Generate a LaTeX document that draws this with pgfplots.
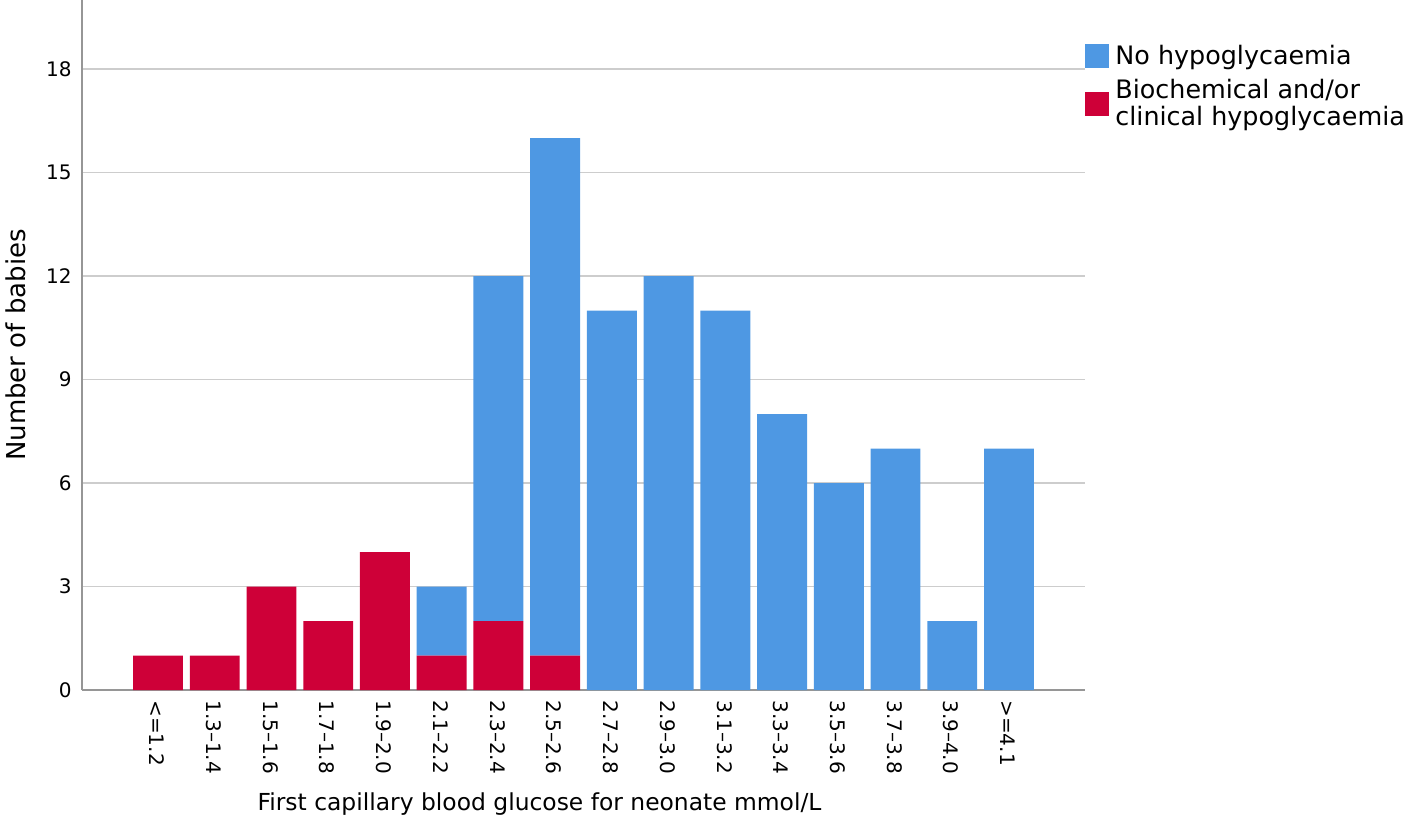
\documentclass[border=0pt]{standalone}
\usepackage{fontspec}
\setmainfont{DejaVu Sans}
\usepackage{pgfplots}
\pgfplotsset{compat=1.18}
\definecolor{nohypo}{RGB}{78,152,227}
\definecolor{hypo}{RGB}{206,0,56}
\definecolor{axgray}{RGB}{150,150,150}
\definecolor{gridgray}{RGB}{205,205,205}
\begin{document}
\begin{tikzpicture}
\begin{axis}[
  name=ax,
  scale only axis, width=501.5pt, height=345pt,
  ybar stacked, bar width=0.88,
  xmin=-1.34, xmax=16.34, ymin=0, ymax=20,
  xtick={0,...,15},
  xticklabels={<=1.2,1.3–1.4,1.5–1.6,1.7–1.8,1.9–2.0,2.1–2.2,2.3–2.4,2.5–2.6,2.7–2.8,2.9–3.0,3.1–3.2,3.3–3.4,3.5–3.6,3.7–3.8,3.9–4.0,>=4.1},
  xticklabel style={rotate=-90, anchor=west, font=\fontsize{10}{12}\selectfont, inner sep=0pt, xshift=5pt, yshift=-0.5pt},
  ytick={0,3,...,18},
  yticklabel style={font=\fontsize{10}{12}\selectfont, inner sep=0pt, xshift=-5pt},
  /pgf/number format/assume math mode=true,
  major tick length=0pt,
  axis x line*=bottom, axis y line*=left,
  axis line style={draw=axgray, line width=0.9pt},
  ymajorgrids, grid style={gridgray, line width=0.6pt},
  xlabel={First capillary blood glucose for neonate mmol/L},
  xlabel style={at={(axis description cs:0.5,0)}, anchor=north, yshift=-51pt, xshift=-22pt, font=\fontsize{11.7}{13}\selectfont, inner sep=0pt},
  ylabel={Number of babies},
  ylabel style={at={(axis description cs:-0.066,0.5)}, anchor=center, font=\fontsize{13}{14}\selectfont, inner sep=0pt},
  legend style={at={(axis description cs:1,0.94)}, anchor=north west, draw=none, fill=none, inner sep=0pt,
    font=\fontsize{12.7}{13.5}\selectfont, row sep=3pt,
    nodes={align=left, inner ysep=1.5pt, inner xsep=1.5pt}},
  legend cell align=left,
  reverse legend,
  legend image code/.code={\fill[#1] (0pt,-6pt) rectangle (12pt,6pt);},
]
\addplot[fill=hypo, draw=none] coordinates {
 (0,1) (1,1) (2,3) (3,2) (4,4) (5,1) (6,2) (7,1)
 (8,0) (9,0) (10,0) (11,0) (12,0) (13,0) (14,0) (15,0)};
\addlegendentry{\hspace{1.5pt}Biochemical and/or\\\hspace{1.5pt}clinical hypoglycaemia}
\addplot[fill=nohypo, draw=none] coordinates {
 (0,0) (1,0) (2,0) (3,0) (4,0) (5,2) (6,10) (7,15)
 (8,11) (9,12) (10,11) (11,8) (12,6) (13,7) (14,2) (15,7)};
\addlegendentry{\hspace{1.5pt}No hypoglycaemia}
\end{axis}
\pgfresetboundingbox
\path[use as bounding box] ([xshift=-41pt,yshift=-68pt]ax.south west) rectangle ([xshift=165.5pt]ax.north east);
\end{tikzpicture}
\end{document}
